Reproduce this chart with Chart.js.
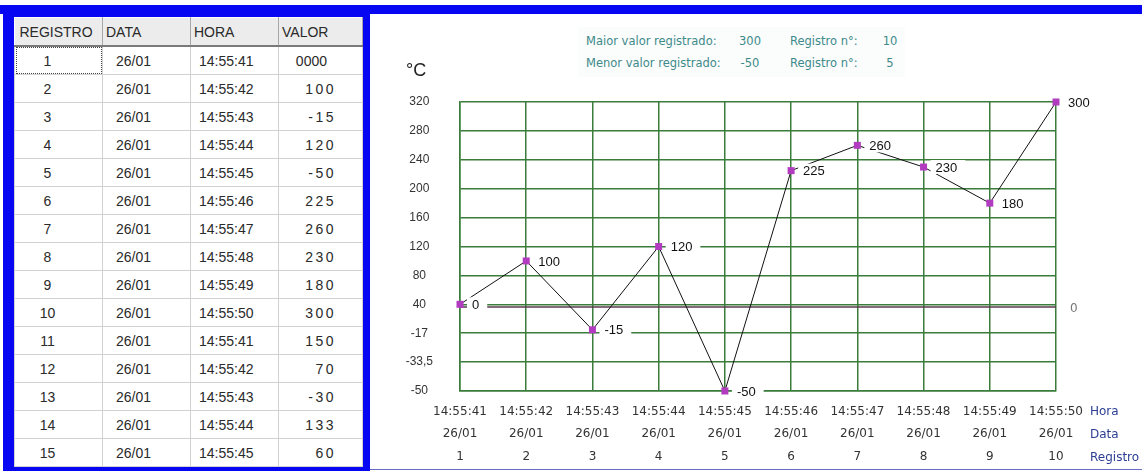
<!DOCTYPE html>
<html><head><meta charset="utf-8">
<script src="https://cdn.jsdelivr.net/npm/chart.js@4.4.1/dist/chart.umd.min.js"></script>
<style>
html,body{margin:0;padding:0;background:#fff;}
body{width:1142px;height:471px;position:relative;overflow:hidden;font-family:"Liberation Sans",Arial,sans-serif;}
#topbar{position:absolute;left:0;top:5px;width:1142px;height:9px;background:#0606f2;}
#leftpanel{position:absolute;left:3px;top:5px;width:367px;height:466px;background:#0606f2;}
#tbl{position:absolute;left:14px;top:17px;width:348px;border-collapse:collapse;table-layout:fixed;background:#fff;font-size:14px;color:#2a2a2a;}
#tbl th{background:#ececec;font-weight:normal;text-align:left;height:27px;padding:0 0 0 3px;border-right:1px solid #a8a8a8;border-bottom:2px solid #7a7a7a;border-top:1px solid #fff;white-space:nowrap;overflow:hidden;}
#tbl th:first-child{padding-left:5px;}
#tbl td{height:27px;padding:0;border:1px solid #d2d2d2;white-space:nowrap;}
#tbl td.reg{text-align:center;padding-right:22px;}
#tbl td.reg.focus{outline:1px dotted #444;outline-offset:-2px;}
#tbl td.dat{padding-left:13px;}
#tbl td.hor{padding-left:8px;}
#tbl td.val{text-align:right;padding-right:26px;letter-spacing:2.5px;}
#tbl td.val.plain{letter-spacing:0;padding-right:35px;}
#panel{position:absolute;left:370px;top:14px;width:772px;height:455px;background:#fff;border-bottom:1px solid #6a6ac8;}
#c{position:absolute;left:0;top:0;}
#info{position:absolute;left:208px;top:13px;width:327px;height:50px;background:#fbfcfc;}
.it{position:absolute;font-family:"DejaVu Sans",sans-serif;font-size:11.5px;line-height:14px;color:#3d8a8a;white-space:nowrap;}
.itc{text-align:center;width:30px;}
</style></head>
<body>
<div id="topbar"></div>
<div id="leftpanel"></div>
<table id="tbl">
<colgroup><col style="width:88px"><col style="width:88px"><col style="width:88px"><col style="width:84px"></colgroup>
<thead><tr><th>REGISTRO</th><th>DATA</th><th>HORA</th><th>VALOR</th></tr></thead>
<tbody id="tb"></tbody>
</table>
<div id="panel">
<canvas id="c" width="772" height="455" style="width:772px;height:455px"></canvas>
<div id="info"></div>
</div>
<script>
// ---- table data (left grid) ----
const tableRegistro = ['1','2','3','4','5','6','7','8','9','10','11','12','13','14','15'];
const tableData = ['26/01','26/01','26/01','26/01','26/01','26/01','26/01','26/01','26/01','26/01','26/01','26/01','26/01','26/01','26/01'];
const tableHora = ['14:55:41','14:55:42','14:55:43','14:55:44','14:55:45','14:55:46','14:55:47','14:55:48','14:55:49','14:55:50','14:55:41','14:55:42','14:55:43','14:55:44','14:55:45'];
const tableValor = ['0000','100','-15','120','-50','225','260','230','180','300','150','70','-30','133','60'];

// ---- chart data ----
const registros = ['1','2','3','4','5','6','7','8','9','10'];
const datas = ['26/01','26/01','26/01','26/01','26/01','26/01','26/01','26/01','26/01','26/01'];
const horas = ['14:55:41','14:55:42','14:55:43','14:55:44','14:55:45','14:55:46','14:55:47','14:55:48','14:55:49','14:55:50'];
const valores = [0,100,-15,120,-50,225,260,230,180,300];
// y gridlines (bottom to top): printed labels, and the value each gridline stands for as plotted
const yTickLabels = ['-50','-33,5','-17','40','80','120','160','200','240','280','320'];
const yGridValues = [-50,-33.5,-17,0,80,120,160,200,240,280,300];
const axisNames = ['Hora','Data','Registro'];

// build table
const tb = document.getElementById('tb');
tableRegistro.forEach((r,i)=>{
  const tr = document.createElement('tr');
  const plain = tableValor[i] === '0000' ? ' plain' : '';
  tr.innerHTML = '<td class="reg'+(i===0?' focus':'')+'">'+r+'</td><td class="dat">'+tableData[i]+'</td><td class="hor">'+tableHora[i]+'</td><td class="val'+plain+'">'+tableValor[i]+'</td>';
  tb.appendChild(tr);
});

// info block
const maxV = Math.max(...valores), minV = Math.min(...valores);
const maxR = registros[valores.indexOf(maxV)], minR = registros[valores.indexOf(minV)];
const info = document.getElementById('info');
function addT(txt,x,y,cls){const s=document.createElement('span');s.className='it'+(cls?' '+cls:'');s.textContent=txt;s.style.left=x+'px';s.style.top=y+'px';info.appendChild(s);}
addT('Maior valor registrado:',8,7);
addT(String(maxV),157,7,'itc');
addT('Registro n°:',212,7);
addT(String(maxR),297,7,'itc');
addT('Menor valor registrado:',8,29);
addT(String(minV),157,29,'itc');
addT('Registro n°:',212,29);
addT(String(minR),297,29,'itc');

// piecewise scale: gridlines evenly spaced, values interpolated between them
class GridStepScale extends Chart.LinearScale {
  determineDataLimits(){ this.min = yGridValues[0]; this.max = yGridValues[yGridValues.length-1]; }
  buildTicks(){ return yGridValues.map(v=>({value:v})); }
  getPixelForValue(value){
    const b = yGridValues, n = b.length-1;
    let i = 0;
    while (i < n-1 && value > b[i+1]) i++;
    const frac = (i + (value-b[i])/(b[i+1]-b[i]))/n;
    return this.getPixelForDecimal(frac);
  }
  getValueForPixel(pixel){
    const b = yGridValues, n = b.length-1;
    const d = this.getDecimalForPixel(pixel)*n;
    let i = Math.max(0, Math.min(n-1, Math.floor(d)));
    return b[i] + (d-i)*(b[i+1]-b[i]);
  }
}
GridStepScale.id = 'gridstep';
GridStepScale.defaults = Chart.LinearScale.defaults;
Chart.register(GridStepScale);

const GREEN = '#3a7d3a';

const annot = {
  id:'annot',
  beforeDatasetsDraw(chart){
    const ctx = chart.ctx, a = chart.chartArea, ys = chart.scales.y;
    const y0 = Math.round(ys.getPixelForValue(0)) + 3;
    ctx.save();
    ctx.strokeStyle = '#5a3a50'; ctx.lineWidth = 1.5;
    ctx.beginPath(); ctx.moveTo(a.left, y0); ctx.lineTo(a.right, y0); ctx.stroke();
    ctx.fillStyle = '#777'; ctx.font = '12px "DejaVu Sans"'; ctx.textBaseline = 'middle'; ctx.textAlign = 'left';
    ctx.fillText('0', a.right + 14, y0 + 2);
    ctx.restore();
  },
  afterDatasetsDraw(chart){
    const ctx = chart.ctx, a = chart.chartArea;
    const meta = chart.getDatasetMeta(0);
    ctx.save();
    ctx.font = '13px "Liberation Sans"'; ctx.textBaseline = 'middle'; ctx.textAlign = 'left';
    meta.data.forEach((pt,i)=>{
      const t = String(valores[i]);
      const w = ctx.measureText(t).width;
      ctx.fillStyle = '#fff';
      ctx.fillRect(pt.x + 7, pt.y - 7, w + 13, 14);
      ctx.fillStyle = '#111';
      ctx.fillText(t, pt.x + 12, pt.y + 1);
    });
    // redraw markers above label boxes
    meta.data.forEach(pt=>{ ctx.fillStyle = '#b23cc0'; ctx.fillRect(pt.x-3.5, pt.y-3.5, 7, 7); });
    // unit
    ctx.fillStyle = '#222'; ctx.font = '18px "Liberation Sans"';
    ctx.fillText('°C', 36, 57);
    // row names of x labels
    ctx.fillStyle = '#2c3e94'; ctx.font = '12px "DejaVu Sans"';
    axisNames.forEach((n,k)=> ctx.fillText(n, a.right + 34, a.bottom + 21 + k*23));
    ctx.restore();
  }
};

new Chart(document.getElementById('c'), {
  type:'line',
  data:{
    labels: horas.map((h,i)=>[h, datas[i], registros[i]]),
    datasets:[{
      data: valores,
      borderColor:'#111', borderWidth:1, tension:0,
      pointStyle:'rect', pointRadius:3.5, pointBackgroundColor:'#b23cc0', pointBorderColor:'#b23cc0', pointBorderWidth:0,
      clip:false
    }]
  },
  options:{
    responsive:false, animation:false, devicePixelRatio:1,
    layout:{padding:{top:88,right:86,left:0,bottom:0}},
    plugins:{legend:{display:false}, tooltip:{enabled:false}, title:{display:false}},
    scales:{
      x:{
        type:'category', offset:false,
        grid:{color:GREEN, lineWidth:1.5, drawTicks:false},
        border:{color:GREEN, width:1.5},
        ticks:{autoSkip:false, maxRotation:0, padding:9, color:'#333', font:{family:'DejaVu Sans', size:12, lineHeight:1.9}},
        afterFit(s){ s.height = 78; }
      },
      y:{
        type:'gridstep',
        grid:{color:GREEN, lineWidth:1.5, drawTicks:false},
        border:{color:GREEN, width:1.5},
        ticks:{crossAlign:'center', padding:27, color:'#333', font:{family:'Liberation Sans', size:12},
          callback:(v,i)=>yTickLabels[i]},
        afterFit(s){ s.width = 90; }
      }
    }
  },
  plugins:[annot]
});
</script>
</body></html>
